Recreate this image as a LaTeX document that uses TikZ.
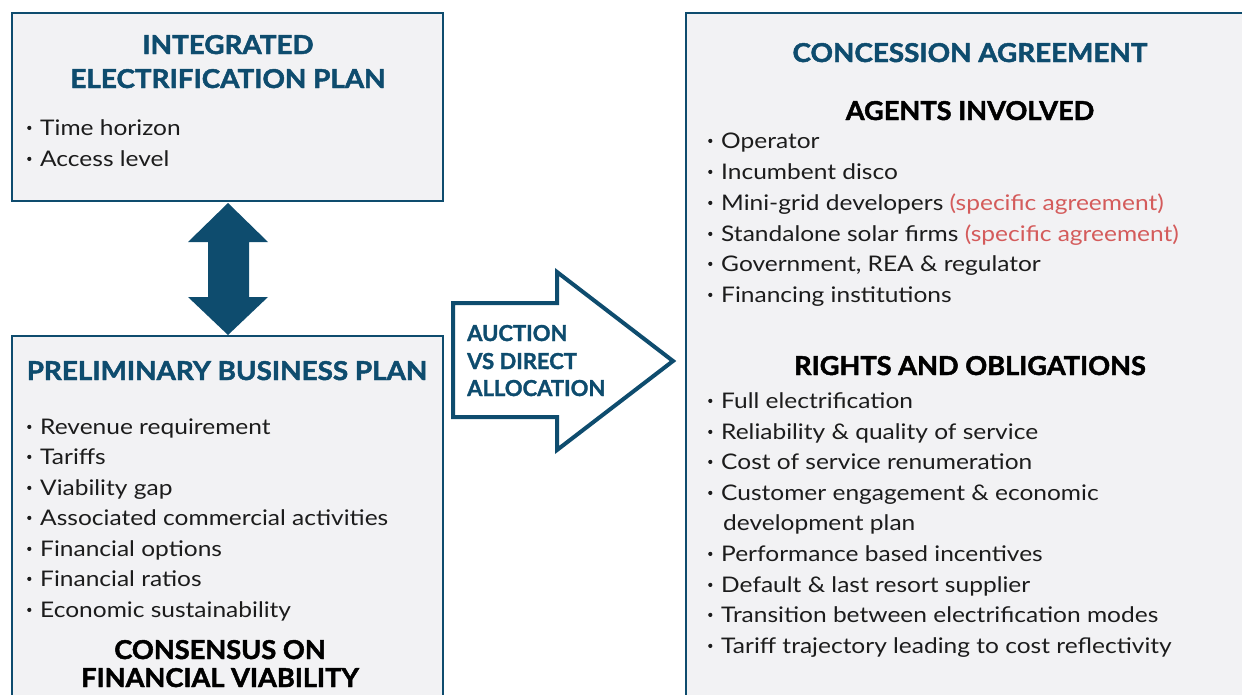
\documentclass[tikz,border=0pt]{standalone}
\usepackage{fontspec}
\setmainfont{Lato}
\newfontfamily\titlef{Lato}[BoldFeatures={FakeBold=1.8,FakeStretch=1.07}]
\newfontfamily\subf{Lato}[BoldFeatures={FakeBold=1.8,FakeStretch=1.045}]
\newfontfamily\arrf{Lato}[BoldFeatures={FakeBold=1.5}]
\newfontfamily\bodyf{Lato}[FakeStretch=1.14]
\definecolor{dblue}{HTML}{0E4C6E}
\definecolor{boxfill}{HTML}{F2F2F4}
\definecolor{redtxt}{HTML}{D45B5B}
\definecolor{bodytxt}{HTML}{1C1C1C}
\tikzset{
  panel/.style={draw=dblue, line width=2.5pt, fill=boxfill},
  ttl/.style={font=\titlef\bfseries\fontsize{26}{30}\selectfont, text=dblue, anchor=base, inner sep=0pt},
  sub/.style={font=\subf\bfseries\fontsize{26}{30}\selectfont, text=black, anchor=base, inner sep=0pt},
  itm/.style={font=\bodyf\fontsize{21.5}{25}\selectfont, text=bodytxt, anchor=base west, inner sep=0pt},
  arrtxt/.style={font=\arrf\bfseries\fontsize{22}{28}\selectfont, text=dblue, anchor=base west, inner sep=0pt},
}
\newcommand{\bul}{\makebox[15pt][l]{\hspace{2pt}\raisebox{5pt}{\tikz\fill[bodytxt] (0,0) circle (2.1pt);}}}
\begin{document}
\begin{tikzpicture}[x=1pt,y=-1pt]
\useasboundingbox (0,0) rectangle (1242,694);
\clip (0,0) rectangle (1242,694);
% panels
\draw[panel] (12,13) rectangle (443,201);
\draw[panel] (12,336) rectangle (443,720);
\draw[panel] (686,13) rectangle (1270,720);
% double arrow
\fill[dblue] (228,203) -- (268,242) -- (249,242) -- (249,297) -- (268,297) -- (228,335)
  -- (188,297) -- (208,297) -- (208,242) -- (188,242) -- cycle;
% big arrow
\draw[draw=dblue, line width=4pt, fill=white, line join=miter]
  (453,303) -- (557,303) -- (557,272) -- (673,361) -- (557,450) -- (557,417) -- (453,417) -- cycle;
\node[arrtxt] (a1) at (467,341) {AUCTION};
\node[arrtxt] (a2) at (467,369) {VS DIRECT};
\node[arrtxt] (a3) at (467,396) {ALLOCATION};
% box 1
\node[ttl] (t1) at (228,54) {INTEGRATED};
\node[ttl] (t2) at (228,88) {ELECTRIFICATION PLAN};
\node[itm] (i1) at (25,135) {\bul Time horizon};
\node[itm] (i2) at (25,166) {\bul Access level};
% box 2
\node[ttl] (t3) at (227,380) {PRELIMINARY BUSINESS PLAN};
\node[itm] (p1) at (25,434) {\bul Revenue requirement};
\node[itm] (p2) at (25,464) {\bul Tariffs};
\node[itm] (p3) at (25,495) {\bul Viability gap};
\node[itm] (p4) at (25,525) {\bul Associated commercial activities};
\node[itm] (p5) at (25,556) {\bul Financial options};
\node[itm] (p6) at (25,586) {\bul Financial ratios};
\node[itm] (p7) at (25,617) {\bul Economic sustainability};
\node[sub] (s1) at (220,659) {CONSENSUS ON};
\node[sub] (s2) at (220,687) {FINANCIAL VIABILITY};
% box 3
\node[ttl] (t4) at (970,62) {CONCESSION AGREEMENT};
\node[sub] (s3) at (970,120) {AGENTS INVOLVED};
\node[itm] (r1) at (706,148) {\bul Operator};
\node[itm] (r2) at (706,179) {\bul Incumbent disco};
\node[itm] (r3) at (706,210) {\bul Mini-grid developers \textcolor{redtxt}{(specific agreement)}};
\node[itm] (r4) at (706,241) {\bul Standalone solar firms \textcolor{redtxt}{(specific agreement)}};
\node[itm] (r5) at (706,271) {\bul Government, REA \& regulator};
\node[itm] (r6) at (706,302) {\bul Financing institutions};
\node[sub] (s4) at (970,375) {RIGHTS AND OBLIGATIONS};
\node[itm] (o1) at (706,408) {\bul Full electrification};
\node[itm] (o2) at (706,439) {\bul Reliability \& quality of service};
\node[itm] (o3) at (706,469) {\bul Cost of service renumeration};
\node[itm] (o4) at (706,500) {\bul Customer engagement \& economic};
\node[itm] (o5) at (706,530) {\hspace{17pt}development plan};
\node[itm] (o6) at (706,561) {\bul Performance based incentives};
\node[itm] (o7) at (706,592) {\bul Default \& last resort supplier};
\node[itm] (o8) at (706,622) {\bul Transition between electrification modes};
\node[itm] (o9) at (706,653) {\bul Tariff trajectory leading to cost reflectivity};
\end{tikzpicture}
\end{document}
